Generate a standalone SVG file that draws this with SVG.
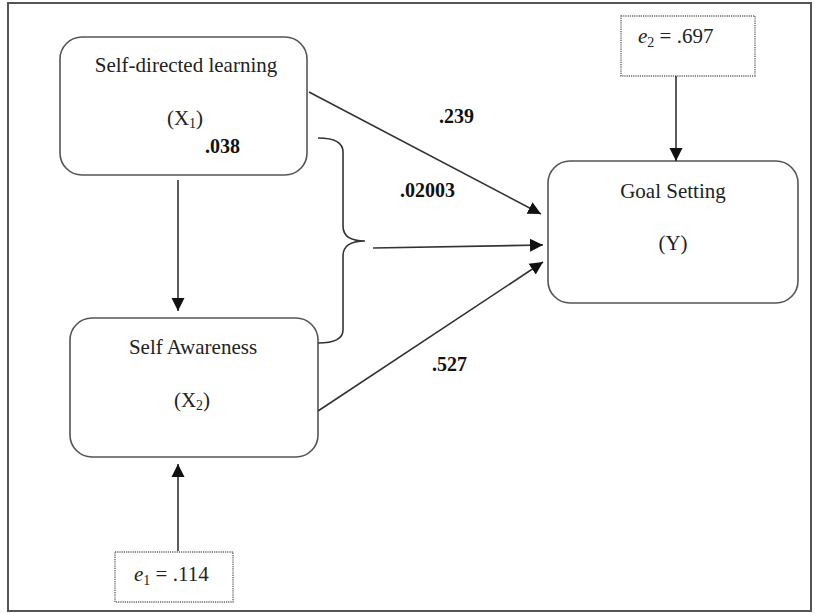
<svg xmlns="http://www.w3.org/2000/svg" width="815" height="613" viewBox="0 0 815 613">
<style>
.frame{fill:none;stroke:#555;stroke-width:2}
.box{fill:#fff;stroke:#555;stroke-width:1.6}
.err{fill:#fff;stroke:#666;stroke-width:1.4;stroke-dasharray:1.2 1}
.t{font-family:"Liberation Serif","Times New Roman",serif;font-size:21px;fill:#222;text-anchor:middle}
.b{font-family:"Liberation Serif","Times New Roman",serif;font-size:20px;font-weight:bold;fill:#111}
.e{font-family:"Liberation Serif","Times New Roman",serif;font-size:21px;fill:#222}
.c{fill:none;stroke:#333;stroke-width:1.6}
</style>
<defs>
<marker id="ah" markerUnits="userSpaceOnUse" markerWidth="14" markerHeight="14" viewBox="0 0 14 14" refX="13" refY="7" orient="auto">
<path d="M0,0.5 L13,7 L0,13.5 Z" fill="#111"/>
</marker>
</defs>
<rect class="frame" x="8" y="3" width="803" height="608"/>
<g id="sdl">
<rect class="box" x="60" y="37" width="247" height="138" rx="22"/>
<text class="t" x="186" y="72">Self-directed learning</text>
<text class="t" x="185" y="125">(X<tspan font-size="14" dy="3">1</tspan><tspan dy="-3">)</tspan></text>
</g>
<g id="sa">
<rect class="box" x="70" y="318" width="248" height="139" rx="22"/>
<text class="t" x="193" y="354">Self Awareness</text>
<text class="t" x="192" y="407">(X<tspan font-size="14" dy="3">2</tspan><tspan dy="-3">)</tspan></text>
</g>
<g id="gs">
<rect class="box" x="548" y="161" width="250" height="142" rx="22"/>
<text class="t" x="673" y="198">Goal Setting</text>
<text class="t" x="673" y="250">(Y)</text>
</g>
<g id="e2">
<rect class="err" x="621" y="16" width="134" height="60"/>
<text class="e" x="638" y="43"><tspan font-style="italic">e</tspan><tspan font-size="14" dy="4">2</tspan><tspan dy="-4"> = .697</tspan></text>
</g>
<g id="e1">
<rect class="err" x="115" y="552" width="118" height="50"/>
<text class="e" x="134" y="581"><tspan font-style="italic">e</tspan><tspan font-size="14" dy="4">1</tspan><tspan dy="-4"> = .114</tspan></text>
</g>
<g id="connectors">
<line class="c" x1="178" y1="180" x2="178" y2="311" marker-end="url(#ah)"/>
<line class="c" x1="178" y1="551" x2="178" y2="464" marker-end="url(#ah)"/>
<line class="c" x1="676" y1="76" x2="676" y2="161" marker-end="url(#ah)"/>
<line class="c" x1="309" y1="92" x2="541" y2="214" marker-end="url(#ah)"/>
<line class="c" x1="373" y1="248" x2="543" y2="245" marker-end="url(#ah)"/>
<line class="c" x1="318" y1="411" x2="543" y2="262" marker-end="url(#ah)"/>
<path class="c" d="M318,138 Q343,138 343,152 L343,226 Q343,241 365,241 Q343,241 343,256 L343,330 Q343,343 318,343"/>
</g>
<g id="labels">
<text class="b" x="205" y="153">.038</text>
<text class="b" x="439" y="123">.239</text>
<text class="b" x="400" y="197">.02003</text>
<text class="b" x="432" y="371">.527</text>
</g>
</svg>
